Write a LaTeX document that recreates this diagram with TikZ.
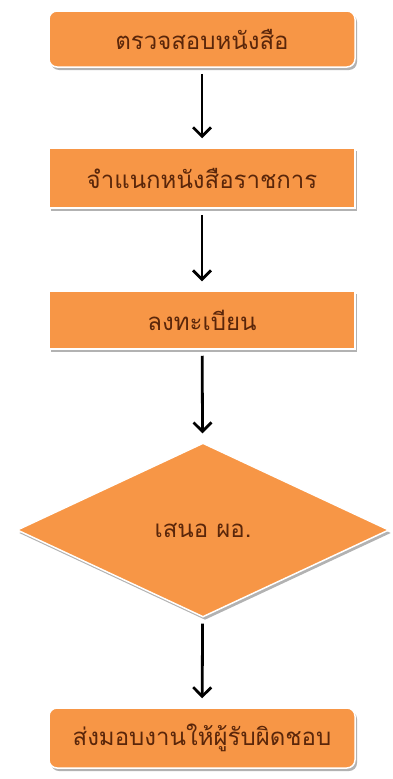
\documentclass[tikz,border=0pt]{standalone}
\usepackage{fontspec}
\newfontfamily\thaifont[Script=Thai]{Loma}
\usepackage{tikz}
\usetikzlibrary{shapes.geometric}
\usetikzlibrary{arrows.meta}
\usetikzlibrary{shadows}
\definecolor{boxorange}{RGB}{247,150,70}
\definecolor{boxtext}{RGB}{90,38,10}
\tikzset{%
    stepbox/.style={
		draw=white, line width=1.5pt,
		fill=boxorange, text=boxtext,
		minimum width=306pt, minimum height=58pt,
		font=\thaifont\fontsize{24}{28}\selectfont,
		drop shadow={shadow xshift=2pt, shadow yshift=-3pt, fill=black!55, opacity=.55}
	}
}
\tikzset{roundbox/.style={stepbox, rounded corners=8pt}}
\tikzset{decide/.style={stepbox, diamond, inner sep=0pt, minimum width=372pt, minimum height=174pt}}
\tikzset{flow/.style={line width=2.8pt, -{Straight Barb[length=9pt,width=18pt]}, shorten <=6pt, shorten >=9pt}}

\begin{document}
\begin{tikzpicture}[x=1pt,y=-1pt]
		\useasboundingbox (0,0) rectangle (392,779);

		% steps, top to bottom
		\node[roundbox, minimum height=56pt] (check) at (202,39) {ตรวจสอบหนังสือ};
		\node[stepbox, minimum height=60pt] (sort) at (202,178) {จำแนกหนังสือราชการ};
		\node[stepbox] (register) at (202,320) {ลงทะเบียน};
		\node[decide] (propose) at (203,530) {เสนอ ผอ.};
		\node[roundbox, minimum height=60pt] (assign) at (202,738) {ส่งมอบงานให้ผู้รับผิดชอบ};

		\draw[flow] (check) -- (sort);
		\draw[flow] (sort) -- (register);
		\draw[flow] (register) -- (propose);
		\draw[flow] (propose) -- (assign);
	\end{tikzpicture}
\end{document}
